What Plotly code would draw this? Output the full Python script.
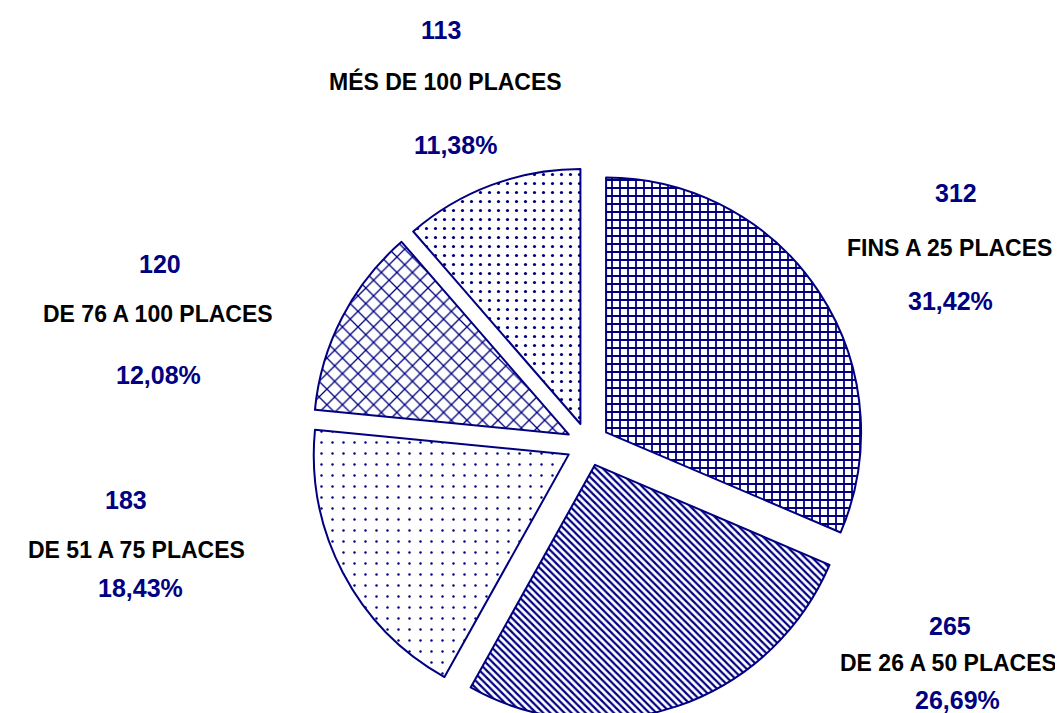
import plotly.graph_objects as go

# ---- data ----
categories = ["FINS A 25 PLACES", "DE 26 A 50 PLACES", "DE 51 A 75 PLACES",
              "DE 76 A 100 PLACES", "MÉS DE 100 PLACES"]
counts = [312, 265, 183, 120, 113]
pattern_shapes = ["+", "\\", ".", "x", "."]

total = sum(counts)
percents = [f"{c / total * 100:.2f}".replace(".", ",") + "%" for c in counts]

# ---- styles / layout ----
W, H = 1063, 713
NAVY = "#000080"
FONT = "Liberation Sans, Arial, sans-serif"
pattern_sizes = [8, 5, 11, 11, 9]
pattern_solid = [0.4, 0.45, 0.04, 0.22, 0.1]

# label positions in pixels: (number, category, percent)
label_pos = [
    [(948, 185), (941, 240), (942, 293)],
    [(942, 618), (940, 655), (949, 692)],
    [(118, 492), (128, 542), (132, 580)],
    [(152, 256), (150, 306), (150, 367)],
    [(433, 22), (437, 73), (447, 137)],
]

r_pix = 255
pull = 0.085
half = r_pix * (1 + pull)
cx, cy = 580, H - half
dom_x = [(cx - half) / W, (cx + half) / W]
dom_y = [0, 2 * half / H]

fig = go.Figure(go.Pie(
    labels=categories,
    values=counts,
    sort=False,
    direction="clockwise",
    rotation=0,
    pull=[pull] * len(counts),
    textinfo="none",
    showlegend=False,
    domain=dict(x=dom_x, y=dom_y),
    marker=dict(
        colors=["white"] * len(counts),
        line=dict(color=NAVY, width=2),
        pattern=dict(shape=pattern_shapes, fgcolor=NAVY, bgcolor="white",
                     size=pattern_sizes, solidity=pattern_solid,
                     fillmode="replace"),
    ),
))

annotations = []
for i in range(len(categories)):
    texts = [str(counts[i]), categories[i], percents[i]]
    colors = [NAVY, "black", NAVY]
    sizes = [25, 23, 25]
    for j in range(3):
        x, y = label_pos[i][j]
        annotations.append(dict(
            x=x / W, y=1 - y / H, xref="paper", yref="paper",
            xanchor="center", yanchor="middle", showarrow=False,
            text=f"<b>{texts[j]}</b>",
            font=dict(family=FONT, size=sizes[j], color=colors[j]),
        ))

fig.update_layout(
    width=W, height=H,
    margin=dict(l=0, r=0, t=0, b=0),
    paper_bgcolor="white", plot_bgcolor="white",
    annotations=annotations,
)

fig.write_html("out.html")
